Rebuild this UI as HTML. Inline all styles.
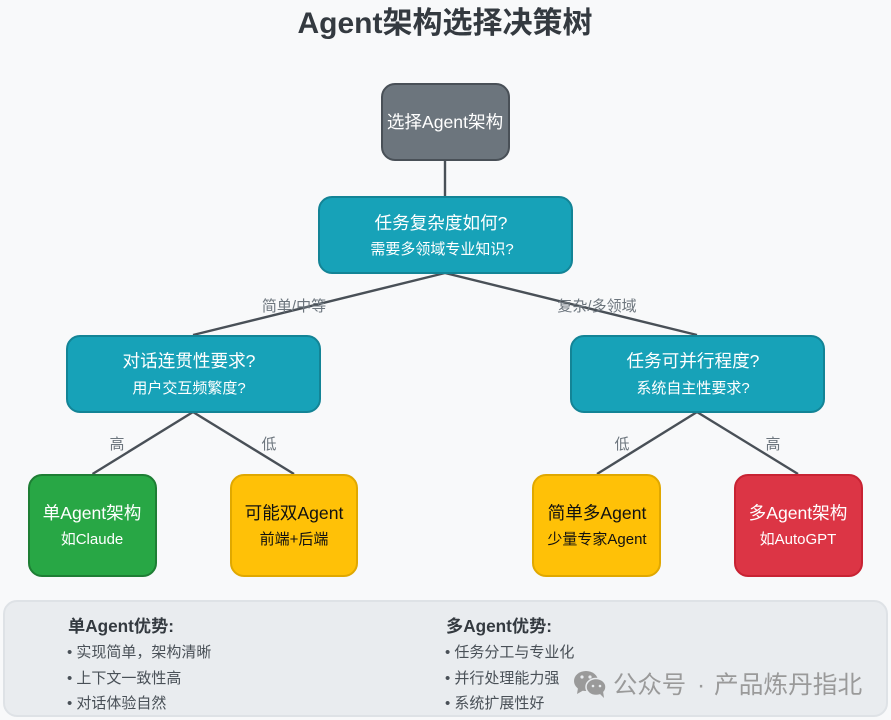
<!DOCTYPE html>
<html lang="zh">
<head>
<meta charset="utf-8">
<title>Agent架构选择决策树</title>
<style>
html,body{margin:0;padding:0;width:891px;height:720px;overflow:hidden;background:#f8f9fa}
svg{display:block}
text{font-family:"Liberation Sans","Noto Sans CJK SC",sans-serif}
.c{text-anchor:middle}
.m{font-size:17.6px}
.s{font-size:15px}
.w{fill:#fff}
.k{fill:#111}
.l{font-size:15px;fill:#6c757d;text-anchor:middle}
.h{font-size:17.2px;font-weight:bold;fill:#343a40}
.i{font-size:15px;fill:#495057}
</style>
</head>
<body>
<svg width="891" height="720" viewBox="0 0 891 720" xmlns="http://www.w3.org/2000/svg">
<rect width="891" height="720" fill="#f8f9fa"/>
<text x="445" y="33" class="c" style="font-size:30px;font-weight:bold" fill="#343a40">Agent架构选择决策树</text>

<g stroke="#495057" stroke-width="2.4" fill="none">
<line x1="445" y1="160" x2="445" y2="197"/>
<line x1="445" y1="273" x2="193" y2="335"/>
<line x1="445" y1="273" x2="697" y2="335"/>
<line x1="193" y1="412" x2="92.5" y2="474"/>
<line x1="193" y1="412" x2="294" y2="474"/>
<line x1="697" y1="412" x2="597" y2="474"/>
<line x1="697" y1="412" x2="798" y2="474"/>
</g>

<g stroke-width="2">
<rect x="382" y="84" width="127" height="76" rx="13" fill="#6c757d" stroke="#495057"/>
<rect x="319" y="197" width="253" height="76" rx="13" fill="#17a2b8" stroke="#138496"/>
<rect x="67" y="336" width="253" height="76" rx="13" fill="#17a2b8" stroke="#138496"/>
<rect x="571" y="336" width="253" height="76" rx="13" fill="#17a2b8" stroke="#138496"/>
<rect x="29" y="475" width="127" height="101" rx="13" fill="#28a745" stroke="#1e7e34"/>
<rect x="231" y="475" width="126" height="101" rx="13" fill="#ffc107" stroke="#e0a800"/>
<rect x="533" y="475" width="127" height="101" rx="13" fill="#ffc107" stroke="#e0a800"/>
<rect x="735" y="475" width="127" height="101" rx="13" fill="#dc3545" stroke="#c82333"/>
</g>

<text x="445" y="128" class="c m w">选择Agent架构</text>
<text x="441" y="229" class="c m w">任务复杂度如何?</text>
<text x="442" y="254" class="c s w">需要多领域专业知识?</text>
<text x="189" y="367" class="c m w">对话连贯性要求?</text>
<text x="189" y="393" class="c s w">用户交互频繁度?</text>
<text x="693" y="367" class="c m w">任务可并行程度?</text>
<text x="693" y="393" class="c s w">系统自主性要求?</text>
<text x="92" y="519" class="c m w">单Agent架构</text>
<text x="92" y="544" class="c s w">如Claude</text>
<text x="294" y="519" class="c m k">可能双Agent</text>
<text x="294" y="544" class="c s k">前端+后端</text>
<text x="597" y="519" class="c m k">简单多Agent</text>
<text x="597" y="544" class="c s k">少量专家Agent</text>
<text x="798" y="519" class="c m w">多Agent架构</text>
<text x="798" y="544" class="c s w">如AutoGPT</text>

<text x="294" y="311" class="l">简单/中等</text>
<text x="597" y="311" class="l">复杂/多领域</text>
<text x="117" y="449" class="l">高</text>
<text x="269" y="449" class="l">低</text>
<text x="622" y="449" class="l">低</text>
<text x="773" y="449" class="l">高</text>

<rect x="4" y="601" width="883" height="115" rx="13" fill="#e9ecef" stroke="#dee2e6" stroke-width="2"/>
<text x="68" y="632" class="h">单Agent优势:</text>
<text x="67" y="657" class="i">• 实现简单，架构清晰</text>
<text x="67" y="683" class="i">• 上下文一致性高</text>
<text x="67" y="708" class="i">• 对话体验自然</text>
<text x="446" y="632" class="h">多Agent优势:</text>
<text x="445" y="657" class="i">• 任务分工与专业化</text>
<text x="445" y="683" class="i">• 并行处理能力强</text>
<text x="445" y="708" class="i">• 系统扩展性好</text>

<g fill="#9a9a9a">
<ellipse cx="586" cy="681" rx="12" ry="10"/>
<path d="M578 688 L577 694 L584 690Z"/>
</g>
<g fill="#9a9a9a" stroke="#e9ecef" stroke-width="1.5">
<ellipse cx="596" cy="687" rx="10" ry="8.5"/>
</g>
<path d="M600 694 L604 698 L603 691Z" fill="#9a9a9a"/>
<g fill="#e9ecef">
<circle cx="582" cy="677" r="1.6"/><circle cx="590" cy="677" r="1.6"/>
<circle cx="593" cy="686" r="1.3"/><circle cx="600" cy="686" r="1.3"/>
</g>
<text x="613" y="693" style="font-size:24.4px" fill="#9a9a9a">公众号</text>
<text x="697" y="693" style="font-size:24.4px" fill="#9a9a9a">·</text>
<text x="714" y="693" style="font-size:24.7px" fill="#9a9a9a">产品炼丹指北</text>
</svg>
</body>
</html>
